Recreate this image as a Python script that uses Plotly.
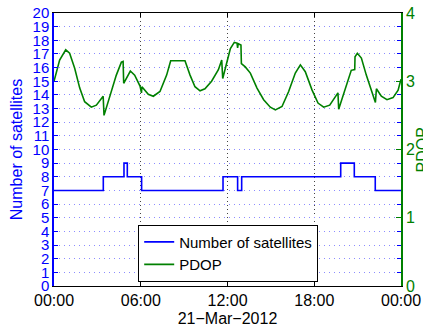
import pandas as pd
import plotly.graph_objects as go

# ---- data ----
day = "2012-03-21"
sat_hours = [0, 3.41, 4.84, 5.07, 6.06, 11.69, 12.70, 12.98, 19.83, 20.77, 22.22, 24]
sat_count = [7, 8, 9, 8, 7, 8, 7, 8, 9, 8, 7, 7]

pdop_hours = [0.0, 0.39, 0.81, 1.08, 1.43, 1.78, 2.12, 2.58, 2.93, 3.34, 3.40, 3.46,
              3.85, 4.31, 4.66, 4.78, 4.82, 5.00, 5.28, 5.58, 5.95, 6.05, 6.08, 6.52,
              6.87, 7.33, 7.79, 8.07, 9.06, 9.41, 9.75, 10.10, 10.44, 10.90, 11.37,
              11.60, 11.67, 11.97, 12.20, 12.47, 12.66, 12.70, 12.74, 12.93, 12.96,
              13.23, 13.58, 14.04, 14.50, 14.96, 15.31, 15.77, 16.23, 16.69, 17.04,
              17.38, 17.85, 18.26, 18.65, 19.07, 19.64, 19.69, 19.99, 20.33, 20.56,
              20.80, 20.82, 20.98, 21.26, 21.60, 21.95, 22.23, 22.30, 22.64, 23.03,
              23.45, 23.80, 24.00]
pdop_vals = [3.00, 3.31, 3.46, 3.41, 3.19, 2.90, 2.70, 2.62, 2.65, 2.76, 2.78, 2.50,
             2.78, 3.09, 3.28, 3.29, 2.97, 3.05, 3.15, 3.09, 2.93, 2.83, 2.92, 2.81,
             2.78, 2.85, 3.09, 3.30, 3.30, 3.09, 2.92, 2.86, 2.89, 3.00, 3.17,
             3.31, 3.04, 3.29, 3.48, 3.57, 3.56, 3.49, 3.55, 3.53, 3.26,
             3.21, 3.12, 2.90, 2.73, 2.62, 2.58, 2.63, 2.85, 3.12, 3.24,
             3.14, 2.87, 2.68, 2.62, 2.65, 2.83, 2.59, 2.78, 3.02, 3.16,
             3.17, 3.36, 3.41, 3.34, 3.09, 2.85, 2.69, 2.89, 2.78, 2.73,
             2.76, 2.87, 3.03]

x_ticks_hours = [0, 6, 12, 18, 24]
x_tick_labels = ["00:00", "06:00", "12:00", "18:00", "00:00"]
sat_ticks = list(range(0, 21))
pdop_ticks = [0, 1, 2, 3, 4]

base = pd.Timestamp(day)
def to_time(hours):
    return [base + pd.Timedelta(hours=h) for h in hours]

BLUE = "#0000ff"
GREEN = "#008000"
FONT = "Liberation Sans, Arial, sans-serif"

fig = go.Figure()
fig.add_trace(go.Scatter(x=to_time(sat_hours), y=sat_count, mode="lines",
                         line=dict(color=BLUE, width=1.6, shape="hv"),
                         name="Number of satellites"))
fig.add_trace(go.Scatter(x=to_time(pdop_hours), y=pdop_vals, mode="lines",
                         line=dict(color=GREEN, width=1.6),
                         name="PDOP", yaxis="y2"))

fig.update_layout(
    width=423, height=329,
    margin=dict(l=54, r=22, t=13, b=43),
    paper_bgcolor="white", plot_bgcolor="white",
    font=dict(family=FONT, size=16, color="black"),
    showlegend=True,
    legend=dict(x=0.502, y=0.016, xanchor="center", yanchor="bottom",
                bgcolor="white", bordercolor="black", borderwidth=1,
                font=dict(size=15, color="black"),
                tracegroupgap=0, itemwidth=30),
    xaxis=dict(
        range=[base, base + pd.Timedelta(hours=24)],
        tickmode="array", tickvals=to_time(x_ticks_hours), ticktext=x_tick_labels,
        ticks="inside", ticklen=4, tickcolor="black",
        showline=True, linecolor="black", linewidth=1, mirror="ticks",
        showgrid=True, gridcolor="#444444", griddash="1px,3px", gridwidth=1,
        zeroline=False, automargin=False,
        tickfont=dict(size=16, color="black"),
        title=dict(text="21\u2212Mar\u22122012", font=dict(size=16, color="black"), standoff=4),
    ),
    yaxis=dict(
        range=[0, 20], tickmode="array", tickvals=sat_ticks,
        ticks="inside", ticklen=4, tickcolor=BLUE,
        showline=True, linecolor=BLUE, linewidth=1.5, mirror="ticks",
        showgrid=True, gridcolor="#8c8cff", griddash="1px,4px", gridwidth=1,
        zeroline=False, automargin=False,
        tickfont=dict(size=15, color=BLUE),
        title=dict(text="Number of satellites", font=dict(size=16, color=BLUE), standoff=6),
    ),
    yaxis2=dict(
        range=[0, 4], tickmode="array", tickvals=pdop_ticks,
        overlaying="y", side="right",
        ticks="inside", ticklen=5, tickcolor=GREEN,
        showline=True, linecolor=GREEN, linewidth=1.5,
        showgrid=False, zeroline=False, automargin=False,
        tickfont=dict(size=16, color=GREEN),
    ),
    annotations=[dict(
        text="PDOP", xref="paper", yref="paper", x=1.033, y=0.5,
        xanchor="left", yanchor="middle", textangle=-90, showarrow=False,
        font=dict(size=16, color=GREEN, family=FONT),
    )],
)

fig.write_html("out.html")
